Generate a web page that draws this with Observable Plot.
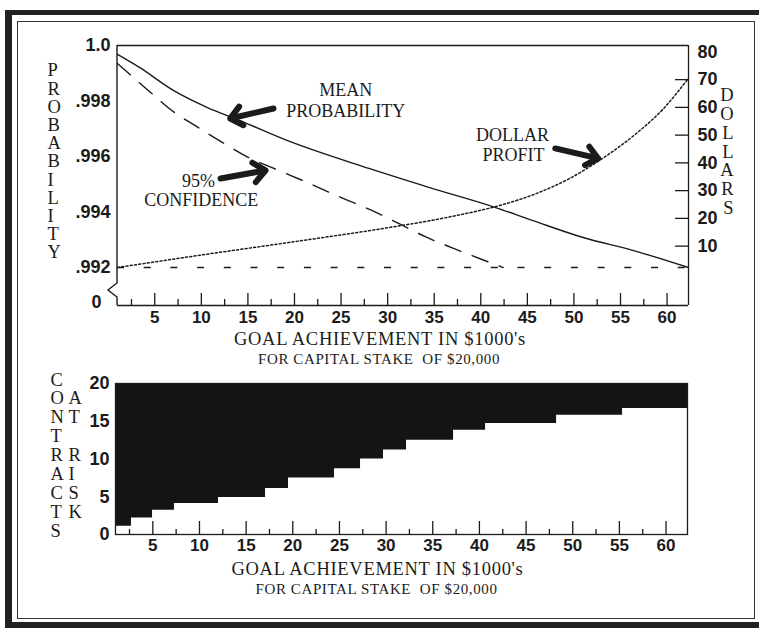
<!DOCTYPE html>
<html>
<head>
<meta charset="utf-8">
<script src="https://cdn.jsdelivr.net/npm/d3@7"></script>
<script src="https://cdn.jsdelivr.net/npm/@observablehq/plot@0.6"></script>
<style>
  html, body { margin: 0; padding: 0; background: #fff; }
  #wrap { position: relative; width: 759px; height: 628px; overflow: hidden; background: #fff; }
  #outer { position: absolute; left: 5px; top: 10px; width: 760px; height: 618px; box-sizing: border-box;
           border-left: 7px solid #222; border-top: 5px solid #222; border-bottom: 6px solid #222; }
  #inner { position: absolute; left: 17px; top: 21px; width: 738px; height: 598px; box-sizing: border-box;
           border: 1.5px solid #333; }
  #top, #bot { position: absolute; left: 0; }
  #top { top: 0; }
  #bot { top: 370px; }
  svg { overflow: visible; }
</style>
</head>
<body>
<div id="wrap">
  <div id="outer"></div>
  <div id="inner"></div>
  <div id="top"></div>
  <div id="bot"></div>
</div>
<script>
// ---------- data ----------
const xTicks = [5, 10, 15, 20, 25, 30, 35, 40, 45, 50, 55, 60];
const xMinorTicks = [2.5, 7.5, 12.5, 17.5, 22.5, 27.5, 32.5, 37.5, 42.5, 47.5, 52.5, 57.5];
const xMin = 1;
const xMax = 62.3;

const probTicks = [0.992, 0.994, 0.996, 0.998, 1.0];
const probTickLabels = [".992", ".994", ".996", ".998", "1.0"];
const probBreakValue = 0;
const probBreakLabel = "0";

const dollarTicks = [10, 20, 30, 40, 50, 60, 70, 80];
// right axis alignment: probability = dollarBase + dollarUnit * dollars
const dollarBase = 0.99177;
const dollarUnit = 0.0001;

const contractTicks = [0, 5, 10, 15, 20];

// mean probability (solid)
const meanX = [1.0, 3.4, 7.0, 10.6, 14.1, 19.2, 28.0, 34.5, 41.6, 45.6, 51.0, 56.4, 62.3];
const meanP = [0.99968, 0.99920, 0.99838, 0.99777, 0.99730, 0.99658, 0.99557, 0.99488, 0.99416, 0.99369, 0.99308, 0.99261, 0.99200];

// 95% confidence (dashed)
const confX = [1.0, 4.3, 7.1, 9.3, 12.2, 15.1, 18.3, 21.6, 24.8, 28.0, 31.0, 34.1, 37.0, 40.2, 42.4];
const confP = [0.99935, 0.99838, 0.99759, 0.99712, 0.99652, 0.99596, 0.99550, 0.99503, 0.99455, 0.99410, 0.99362, 0.99310, 0.99270, 0.99228, 0.99200];

// dollar profit (dotted, right axis)
const dollarX = [1.0, 10.0, 20.8, 29.4, 36.6, 42.4, 46.0, 49.6, 53.2, 56.7, 59.6, 62.3];
const dollarV = [2.3, 6.8, 12.0, 16.3, 20.5, 25.0, 29.0, 34.5, 41.9, 50.6, 59.5, 70.5];

// contracts at risk (step)
const stepStart = [1.0, 2.71, 4.97, 7.32, 12.04, 17.08, 19.54, 24.47, 27.26, 29.72, 32.19, 37.23, 40.66, 48.27, 55.34];
const contracts = [1.1, 2.2, 3.2, 4.1, 4.9, 6.1, 7.5, 8.7, 10.0, 11.2, 12.5, 13.8, 14.7, 15.8, 16.7];
const contractMax = 20;

// labels
const probAxisLabel = "PROBABILITY";
const dollarAxisLabel = "DOLLARS";
const contractsLabel = "CONTRACTS";
const atRiskLabel = "AT RISK";
const xTitle = "GOAL ACHIEVEMENT IN $1000's";
const xSubtitle = "FOR CAPITAL STAKE  OF $20,000";

const annotX = [25.5, 25.5, 9.7, 10.0, 43.4, 43.5];
const annotP = [0.99837, 0.99762, 0.99512, 0.99441, 0.99676, 0.99603];
const annotText = ["MEAN", "PROBABILITY", "95%", "CONFIDENCE", "DOLLAR", "PROFIT"];

const arrowX1 = [17.75, 12.06, 48.0];
const arrowP1 = [0.99773, 0.99521, 0.99629];
const arrowX2 = [13.1, 16.9, 52.6];
const arrowP2 = [0.99737, 0.99550, 0.99593];

// ---------- styles ----------
const ink = "#1b1b1b";
const sans = "'Liberation Sans', Arial, Helvetica, sans-serif";
const serif = "'Liberation Serif', 'Times New Roman', serif";
const stack = s => s.split("").join("\n");
const toP = d => dollarBase + dollarUnit * d;

const meanData = meanX.map((x, i) => ({x, p: meanP[i]}));
const confData = confX.map((x, i) => ({x, p: confP[i]}));
const dollarData = dollarX.map((x, i) => ({x, d: dollarV[i]}));
const annotData = annotX.map((x, i) => ({x, p: annotP[i], text: annotText[i]}));
const arrowData = arrowX1.map((x, i) => ({x1: x, y1: arrowP1[i], x2: arrowX2[i], y2: arrowP2[i]}));
const stepData = stepStart.map((x, i) => ({x, c: contracts[i]}));
stepData.push({x: xMax, c: contracts[contracts.length - 1]});

function spaceTitles(svg) {
  d3.select(svg).selectAll("text").each(function () {
    const t = this.textContent;
    if (t === xTitle) this.setAttribute("letter-spacing", "0.7px");
    else if (t === xSubtitle) this.setAttribute("letter-spacing", "0.6px");
  });
}

// ---------- top chart ----------
const topH = 370, topML = 117, topMR = 71, topMT = 45, topMB = 65;
const frameTopH = topH - topMT - topMB;
const frameTopW = 759 - topML - topMR;

const topPlot = Plot.plot({
  width: 759, height: topH,
  marginLeft: topML, marginRight: topMR, marginTop: topMT, marginBottom: topMB,
  x: {domain: [xMin, xMax], axis: null},
  y: {type: "linear", domain: [probBreakValue, probTicks[0], probTicks[probTicks.length - 1]],
      range: [topH - topMB, 267, topMT], axis: null},
  style: {background: "transparent", color: ink, fontFamily: sans, overflow: "visible"},
  marks: [
    Plot.ruleY([probTicks[probTicks.length - 1]], {stroke: ink, strokeWidth: 1.3}),
    Plot.ruleY([probBreakValue], {stroke: ink, strokeWidth: 1.5}),
    Plot.ruleX([xMax], {stroke: ink, strokeWidth: 1.3}),
    Plot.ruleX(xTicks, {stroke: ink, strokeWidth: 1.3, insetTop: frameTopH - 12}),
    Plot.ruleX(xMinorTicks, {stroke: ink, strokeWidth: 1.3, insetTop: frameTopH - 6}),
    Plot.ruleY(dollarTicks.filter(d => d < 80), {y: d => toP(d), stroke: ink, strokeWidth: 1.3, insetLeft: frameTopW - 13}),
    Plot.ruleY([probTicks[0]], {stroke: ink, strokeWidth: 1.3, strokeDasharray: "7,19.7"}),
    Plot.line(meanData, {x: "x", y: "p", curve: "monotone-x", stroke: ink, strokeWidth: 1.4}),
    Plot.line(confData, {x: "x", y: "p", curve: "monotone-x", stroke: ink, strokeWidth: 1.4, strokeDasharray: "17,12"}),
    Plot.line(dollarData, {x: "x", y: d => toP(d.d), curve: "monotone-x", stroke: ink, strokeWidth: 1.5, strokeDasharray: "2,2.3"}),
    Plot.arrow(arrowData, {x1: "x1", y1: "y1", x2: "x2", y2: "y2", stroke: ink, strokeWidth: 6, headLength: 7, headAngle: 80}),
    Plot.text(annotData, {x: "x", y: "p", text: "text", fontFamily: serif, fontSize: 18, fill: ink}),
    Plot.text(probTicks, {y: d => d, text: (d, i) => probTickLabels[i], frameAnchor: "left", textAnchor: "end", dx: -7, fontSize: 18, fontWeight: "bold", fill: ink}),
    Plot.text([probBreakValue], {y: d => d, text: () => probBreakLabel, frameAnchor: "left", textAnchor: "end", dx: -16, dy: -3, fontSize: 18, fontWeight: "bold", fill: ink}),
    Plot.text(dollarTicks, {y: d => toP(d), text: d => String(d), frameAnchor: "right", textAnchor: "start", dx: 9, fontSize: 18, fontWeight: "bold", fill: ink}),
    Plot.text(xTicks, {x: d => d, text: d => String(d), frameAnchor: "bottom", dy: 17, fontSize: 17, fontWeight: "bold", fill: ink}),
    Plot.text([probAxisLabel], {text: d => stack(d), frameAnchor: "left", dx: -70, dy: -14, lineHeight: 0.984, fontSize: 18.5, fontFamily: serif, fill: ink}),
    Plot.text([dollarAxisLabel], {text: d => stack(d), frameAnchor: "right", dx: 45, dy: -24, lineHeight: 1.016, fontSize: 18.5, fontFamily: serif, fill: ink}),
    Plot.text([xTitle], {text: d => d, frameAnchor: "bottom", dx: -23, dy: 39, fontSize: 18.5, fontFamily: serif, fill: ink}),
    Plot.text([xSubtitle], {text: d => d, frameAnchor: "bottom", dx: -24, dy: 58.5, fontSize: 15, fontFamily: serif, fill: ink})
  ]
});
spaceTitles(topPlot);
document.getElementById("top").appendChild(topPlot);

// left probability axis line with a scale break near zero
(function () {
  const xs = topPlot.scale("x"), ys = topPlot.scale("y");
  const x0 = xs.apply(xMin);
  const yT = ys.apply(probTicks[probTicks.length - 1]);
  const yB = ys.apply(probBreakValue);
  const path = `M${x0},${yT} V${yB - 22} L${x0 - 9},${yB - 15} L${x0},${yB - 8} V${yB}`;
  d3.select(topPlot).append("path").attr("d", path).attr("fill", "none")
    .attr("stroke", ink).attr("stroke-width", 1.4).attr("stroke-linejoin", "miter");
})();

// ---------- bottom chart ----------
const botH = 258, botML = 115, botMR = 72, botMT = 13, botMB = 94;
const frameBotH = botH - botMT - botMB;

const botPlot = Plot.plot({
  width: 759, height: botH,
  marginLeft: botML, marginRight: botMR, marginTop: botMT, marginBottom: botMB,
  x: {domain: [xMin, xMax], axis: null},
  y: {domain: [contractTicks[0], contractMax], axis: null},
  style: {background: "transparent", color: ink, fontFamily: sans, overflow: "visible"},
  marks: [
    Plot.areaY(stepData, {x: "x", y1: "c", y2: () => contractMax, curve: "step-after", fill: "#141414"}),
    Plot.frame({stroke: ink, strokeWidth: 1.3}),
    Plot.ruleX(xTicks, {stroke: ink, strokeWidth: 1.3, insetTop: frameBotH - 13}),
    Plot.ruleX(xMinorTicks, {stroke: ink, strokeWidth: 1.3, insetTop: frameBotH - 5}),
    Plot.text(contractTicks, {y: d => d, text: d => String(d), frameAnchor: "left", textAnchor: "end", dx: -6, fontSize: 18, fontWeight: "bold", fill: ink}),
    Plot.text(xTicks, {x: d => d, text: d => String(d), frameAnchor: "bottom", dy: 16, fontSize: 17, fontWeight: "bold", fill: ink}),
    Plot.text([contractsLabel], {text: d => stack(d), frameAnchor: "left", dx: -65, dy: -4, lineHeight: 1.02, fontSize: 18.5, fontFamily: serif, fill: ink}),
    Plot.text([atRiskLabel], {text: d => stack(d), frameAnchor: "left", dx: -47, dy: -4, lineHeight: 1.02, fontSize: 18.5, fontFamily: serif, fill: ink}),
    Plot.text([xTitle], {text: d => d, frameAnchor: "bottom", dx: -24, dy: 40, fontSize: 18.5, fontFamily: serif, fill: ink}),
    Plot.text([xSubtitle], {text: d => d, frameAnchor: "bottom", dx: -25, dy: 59.5, fontSize: 15, fontFamily: serif, fill: ink})
  ]
});
spaceTitles(botPlot);
document.getElementById("bot").appendChild(botPlot);
</script>
</body>
</html>
